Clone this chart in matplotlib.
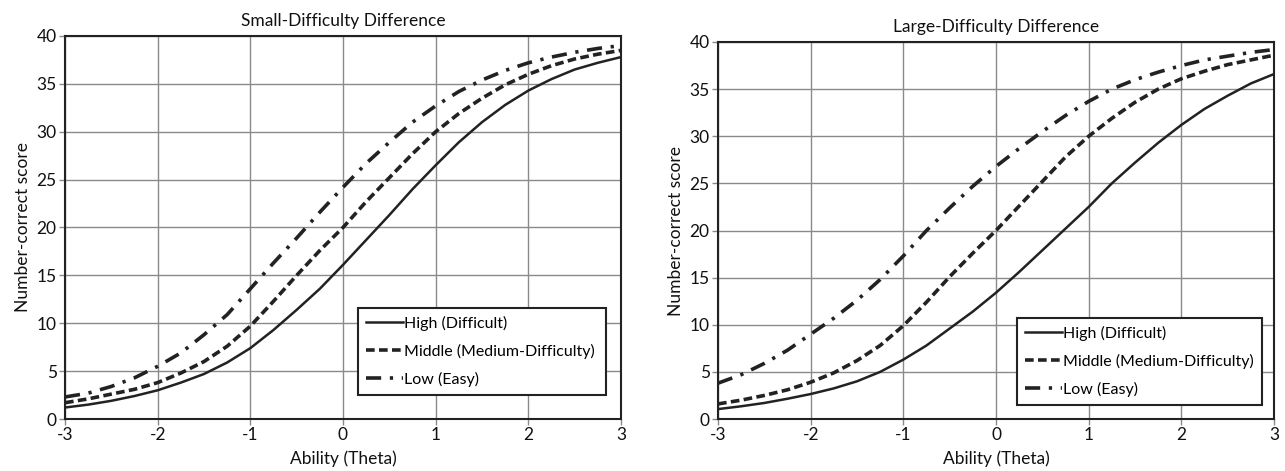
import matplotlib
matplotlib.use("Agg")
import matplotlib.pyplot as plt
import numpy as np

theta = [-3, -2.75, -2.5, -2.25, -2, -1.75, -1.5, -1.25, -1, -0.75, -0.5, -0.25,
         0, 0.25, 0.5, 0.75, 1, 1.25, 1.5, 1.75, 2, 2.25, 2.5, 2.75, 3]

small_high = [1.2, 1.5, 1.9, 2.4, 3.0, 3.8, 4.7, 5.9, 7.4, 9.3, 11.4, 13.6,
              16.1, 18.7, 21.3, 24.0, 26.5, 28.9, 31.0, 32.8, 34.3, 35.5, 36.5, 37.2, 37.8]
small_middle = [1.7, 2.1, 2.6, 3.1, 3.8, 4.8, 6.0, 7.6, 9.7, 12.3, 15.0, 17.6,
                20.0, 22.7, 25.2, 27.7, 30.0, 31.9, 33.5, 34.9, 36.0, 36.9, 37.6, 38.1, 38.5]
small_low = [2.3, 2.7, 3.4, 4.3, 5.5, 6.9, 8.8, 10.9, 13.6, 16.3, 18.9, 21.6,
             24.2, 26.7, 28.9, 31.0, 32.7, 34.2, 35.4, 36.4, 37.2, 37.8, 38.3, 38.7, 39.0]

large_high = [1.05, 1.35, 1.7, 2.15, 2.65, 3.25, 4.0, 5.0, 6.3, 7.8, 9.6, 11.4,
              13.4, 15.6, 17.9, 20.2, 22.5, 25.0, 27.2, 29.3, 31.2, 32.9, 34.3, 35.6, 36.6]
large_middle = [1.6, 2.0, 2.5, 3.1, 3.9, 4.9, 6.2, 7.8, 9.9, 12.4, 15.1, 17.6,
                20.0, 22.6, 25.2, 27.8, 30.0, 31.9, 33.6, 35.0, 36.1, 36.9, 37.6, 38.1, 38.6]
large_low = [3.8, 4.7, 5.9, 7.3, 9.0, 10.7, 12.6, 14.8, 17.3, 20.0, 22.4, 24.7,
             26.8, 28.7, 30.5, 32.2, 33.7, 35.0, 36.0, 36.8, 37.5, 38.1, 38.5, 38.9, 39.2]

labels = ["High (Difficult)", "Middle (Medium-Difficulty)", "Low (Easy)"]
titles = ["Small-Difficulty Difference", "Large-Difficulty Difference"]
xticks = [-3, -2, -1, 0, 1, 2, 3]
yticks = [0, 5, 10, 15, 20, 25, 30, 35, 40]

plt.rcParams['font.family'] = ['Lato', 'DejaVu Sans']
plt.rcParams['axes.unicode_minus'] = False

fig = plt.figure(figsize=(12.85, 4.71), dpi=100)
W, H = 1285, 471
ax1 = fig.add_axes([65 / W, (H - 419) / H, 556 / W, 383 / H])
ax2 = fig.add_axes([718 / W, (H - 419) / H, 556 / W, 377 / H])

col = "#222222"
panels = [
    (ax1, titles[0], [small_high, small_middle, small_low], (0.527, 0.052, 0.446, 0.238)),
    (ax2, titles[1], [large_high, large_middle, large_low], (0.538, 0.027, 0.44, 0.241)),
]

for ax, title, series, bb in panels:
    h, m, l = series
    ax.plot(theta, h, color=col, lw=1.8, solid_joinstyle='round', label=labels[0])
    ax.plot(theta, m, color=col, lw=2.6, dashes=(2.4, 1.2), label=labels[1])
    ax.plot(theta, l, color=col, lw=2.6, dashes=(4.2, 2.4, 0.9, 2.4), label=labels[2])
    ax.set_xlim(-3, 3)
    ax.set_ylim(0, 40)
    ax.set_xticks(xticks)
    ax.set_yticks(yticks)
    ax.grid(True, color="#8a8a8a", lw=1.0)
    ax.set_axisbelow(True)
    for s in ax.spines.values():
        s.set_color(col)
        s.set_linewidth(1.5)
    ax.tick_params(direction='out', length=4, width=1, color="#8a8a8a",
                   labelsize=12.5, labelcolor="#111111", pad=2)
    ax.set_title(title, fontsize=12.5, color="#111111", pad=7)
    ax.set_xlabel("Ability (Theta)", fontsize=12.5, color="#111111", labelpad=5)
    ax.set_ylabel("Number-correct score", fontsize=12.5, color="#111111", labelpad=4)
    leg = ax.legend(loc='upper left', bbox_to_anchor=bb, mode='expand',
                    fontsize=11.5, frameon=True, fancybox=False, borderaxespad=0,
                    handlelength=2.3, handletextpad=0.1, labelspacing=0.8,
                    borderpad=0.5)
    fr = leg.get_frame()
    fr.set_edgecolor(col)
    fr.set_linewidth(1.5)
    fr.set_alpha(1)

fig.savefig("out.png", dpi=100)
